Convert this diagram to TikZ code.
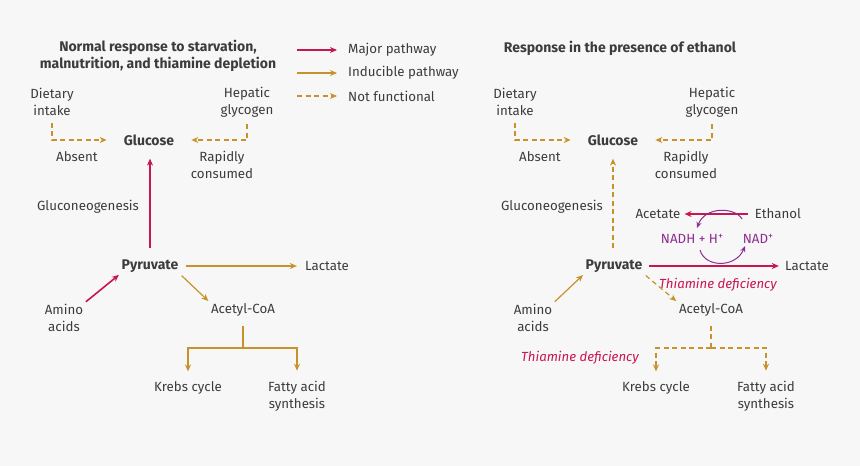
\documentclass[tikz,border=0pt]{standalone}
\usepackage{fontspec}
\setmainfont{Fira Sans}
\usepackage{xcolor}
\usepackage{tikz}
\usetikzlibrary{positioning, arrows.meta}

\definecolor{majorred}{HTML}{C8164E}
\definecolor{inducgold}{HTML}{C8922A}
\definecolor{nadpurple}{HTML}{8E2C91}
\definecolor{textgray}{HTML}{3C3C3C}
\definecolor{bggray}{HTML}{F7F7F7}
\newcommand{\plussup}{\raisebox{0.55ex}{\fontsize{10}{10}\selectfont +}}

\begin{document}
\begin{tikzpicture}[
    x=1pt, y=-1pt,
    every node/.style={font=\fontsize{13.3}{17}\selectfont, text=textgray, align=center, inner sep=1pt},
    keynode/.style={font=\bfseries\fontsize{14}{17}\selectfont},
    titlenode/.style={font=\bfseries\fontsize{14}{17}\selectfont},
    defnode/.style={text=majorred, font=\itshape\fontsize{13.2}{17}\selectfont},
    nadnode/.style={text=nadpurple},
    majorarrow/.style={-{Stealth[length=7pt, width=6pt]}, draw=majorred, line width=1.6pt},
    inducline/.style={draw=inducgold, line width=1.2pt},
    inducarrow/.style={inducline, -{Stealth[length=7pt, width=6pt]}},
    nfline/.style={inducline, dash pattern=on 5pt off 3.5pt},
    nfarrow/.style={inducarrow, dash pattern=on 5pt off 3.5pt},
    nadarrow/.style={-{Stealth[length=6pt, width=5pt]}, draw=nadpurple, line width=1pt}
]

  \fill[bggray] (0,0) rectangle (860,466);
  \useasboundingbox (0,0) rectangle (860,466);

  % Legend
  \node[anchor=west] (majorkey) at (347,50) {Major pathway};
  \node[anchor=west] (induckey) at (347,73) {Inducible pathway};
  \node[anchor=west] (nfkey) at (347,96) {Not functional};
  \coordinate (majorstart) at (297,50);
  \coordinate (inducstart) at (297,73);
  \coordinate (nfstart) at (297,96);
  \draw[majorarrow, shorten >=10pt] (majorstart) -- (majorkey.west);
  \draw[inducarrow, shorten >=10pt] (inducstart) -- (induckey.west);
  \draw[nfarrow, shorten >=10pt] (nfstart) -- (nfkey.west);

  % Nodes, normal response
  \node[titlenode] (title1) at (158,56) {Normal response to starvation,\\malnutrition, and thiamine depletion};
  \node (dietary1) at (52,102) {Dietary\\intake};
  \node (hepatic1) at (247,102) {Hepatic\\glycogen};
  \node[keynode] (glucose1) at (149,140) {Glucose};
  \node (absent1) at (77,157) {Absent};
  \node (rapid1) at (222,165) {Rapidly\\consumed};
  \node (gluconeo1) at (88,207) {Gluconeogenesis};
  \node[keynode] (pyruvate1) at (150,266) {Pyruvate};
  \node (lactate1) at (327,266) {Lactate};
  \node (acetyl1) at (243,310) {Acetyl-CoA};
  \node (amino1) at (64,318) {Amino\\acids};
  \node (krebs1) at (188,388) {Krebs cycle};
  \node (fatty1) at (297,396) {Fatty acid\\synthesis};
  \coordinate (branch1) at (243,348);

  % Arrows, normal response
  \draw[nfarrow, shorten <=6pt, shorten >=16pt] (dietary1.south) |- (glucose1.west);
  \draw[nfarrow, shorten <=6pt, shorten >=16pt] (hepatic1.south) |- (glucose1.east);
  \draw[majorarrow, shorten <=10pt, shorten >=12pt] (pyruvate1.north) -- (pyruvate1.north |- glucose1.south);
  \draw[inducarrow, shorten <=6pt, shorten >=7pt] (pyruvate1.east) -- (lactate1.west);
  \draw[inducarrow, shorten <=3pt, shorten >=2pt] (pyruvate1.south east) -- (acetyl1.north west);
  \draw[majorarrow, shorten <=2pt, shorten >=2pt] (amino1.north east) -- (pyruvate1.south west);
  \draw[inducline, shorten <=8pt] (acetyl1.south) -- (branch1);
  \draw[inducarrow, shorten >=9pt] (branch1) -| (krebs1.north);
  \draw[inducarrow, shorten >=9pt] (branch1) -| (fatty1.north);

  % Nodes, ethanol
  \node[titlenode] (title2) at (620,48) {Response in the presence of ethanol};
  \node (dietary2) at (515,102) {Dietary\\intake};
  \node (hepatic2) at (712,102) {Hepatic\\glycogen};
  \node[keynode] (glucose2) at (613,140) {Glucose};
  \node (absent2) at (540,157) {Absent};
  \node (rapid2) at (686,165) {Rapidly\\consumed};
  \node (gluconeo2) at (552,207) {Gluconeogenesis};
  \node (acetate2) at (658,214) {Acetate};
  \node (ethanol2) at (778,214) {Ethanol};
  \node[nadnode] (nadh2) at (692,239) {NADH + H\plussup};
  \node[nadnode] (nad2) at (758,239) {NAD\plussup};
  \node[keynode] (pyruvate2) at (614,266) {Pyruvate};
  \node (lactate2) at (807,266) {Lactate};
  \node[defnode] (thiamine2a) at (718,285) {Thiamine deficiency};
  \node (acetyl2) at (711,310) {Acetyl-CoA};
  \node (amino2) at (533,318) {Amino\\acids};
  \node[defnode] (thiamine2b) at (580,358) {Thiamine deficiency};
  \node (krebs2) at (656,388) {Krebs cycle};
  \node (fatty2) at (766,396) {Fatty acid\\synthesis};
  \coordinate (branch2) at (711,348);
  \coordinate (nadtop) at (742,219);
  \coordinate (nadhtop) at (697,228);
  \coordinate (nadhbot) at (700,250);
  \coordinate (nadbot) at (745,246);

  % Arrows, ethanol
  \draw[nfarrow, shorten <=6pt, shorten >=16pt] (dietary2.south) |- (glucose2.west);
  \draw[nfarrow, shorten <=6pt, shorten >=16pt] (hepatic2.south) |- (glucose2.east);
  \draw[nfarrow, shorten <=10pt, shorten >=12pt] (pyruvate2.north -| glucose2) -- (glucose2.south);
  \draw[majorarrow, shorten <=6pt, shorten >=3pt] (ethanol2.west) -- (acetate2.east);
  \draw[nadarrow] (nadtop) .. controls (735,207) and (705,206) .. (nadhtop);
  \draw[nadarrow] (nadhbot) .. controls (705,268) and (736,268) .. (nadbot);
  \draw[majorarrow, shorten <=5pt, shorten >=5pt] (pyruvate2.east) -- (lactate2.west);
  \draw[nfarrow, shorten <=3pt, shorten >=2pt] (pyruvate2.south east) -- (acetyl2.north west);
  \draw[inducarrow, shorten <=2pt, shorten >=2pt] (amino2.north east) -- (pyruvate2.south west);
  \draw[nfline, shorten <=8pt] (acetyl2.south) -- (branch2);
  \draw[nfarrow, shorten >=9pt] (branch2) -| (krebs2.north);
  \draw[nfarrow, shorten >=9pt] (branch2) -| (fatty2.north);

\end{tikzpicture}
\end{document}
